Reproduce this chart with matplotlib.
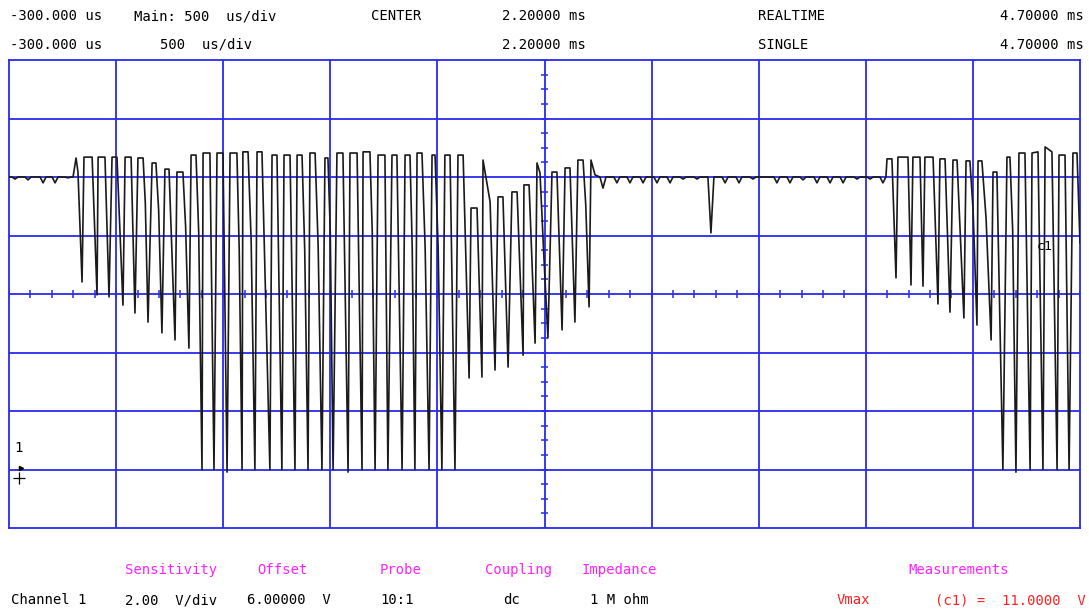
#! /usr/bin/env python3

import numpy as np
import matplotlib
matplotlib.use("Agg")
import matplotlib.pyplot as plt

# scope screen settings
t_start_us = -300.0
t_div_us = 500.0
v_offset = 6.0
v_div = 2.0
n_xdiv = 10
n_ydiv = 8
baseline_v = 10.0

# small ripple dips on the idle baseline: centre time (us), dip voltage (V)
dip_us = [-272, -211, -141, -85, -25,
          2473, 2538, 2599, 2660, 2725, 2786, 2847, 2912, 2977, 3043, 3108,
          3173, 3285, 3346, 3407, 3472, 3533, 3594, 3659, 3720, 3780]
dip_v = [9.93, 9.90, 9.80, 9.80, 9.97,
         9.62, 9.80, 9.80, 9.80, 9.80, 9.80, 9.93, 9.93, 8.09, 9.80, 9.80,
         9.93, 9.80, 9.80, 9.90, 9.80, 9.80, 9.80, 9.93, 9.93, 9.80]

# single trace samples outside the pulses (start, burst lead-in, burst tail)
edge_us = [-300, -1, 13, 2436, 3799]
edge_v = [10.0, 10.0, 10.65, 10.07, 10.62]

# pulses: end of high plateau, knee on falling edge, bottom, top after rise
pulse_end_us = [22, 88, 148, 204, 270, 326, 386, 447, 512, 573,
                638, 699, 764, 816, 881, 951, 1012, 1068, 1129, 1189,
                1259, 1325, 1385, 1455, 1511, 1572, 1628, 1689, 1759, 1820,
                1885, 1946, 2006, 2072, 2128, 2179, 2258, 2319, 2380,
                3822, 3897, 3953, 4014, 4070, 4126, 4186, 4242, 4312, 4373,
                4443, 4504, 4569, 4630, 4686]
pulse_end_v = [10.17, 10.68, 10.68, 10.68, 10.68, 10.65, 10.48, 10.27, 10.17, 10.75,
               10.82, 10.82, 10.82, 10.86, 10.86, 10.75, 10.75, 10.75, 10.82, 10.65,
               10.82, 10.82, 10.86, 10.75, 10.75, 10.75, 10.82, 10.75, 10.75, 10.75,
               8.94, 9.15, 9.32, 9.49, 9.73, 10.14, 10.17, 10.31, 10.58,
               10.62, 10.68, 10.68, 10.68, 10.62, 10.58, 10.55, 10.55, 10.17, 10.68,
               10.82, 10.86, 10.86, 10.75, 10.82]
pulse_knee_v = [np.nan, np.nan, np.nan, np.nan, np.nan, 9.11, 8.87, np.nan, 8.29, 8.12,
                np.nan, np.nan, 7.50, 7.85, np.nan, np.nan, np.nan, 7.50, 7.61, 8.15,
                np.nan, np.nan, 8.12, np.nan, np.nan, 7.61, 7.57, 7.61, np.nan, np.nan,
                np.nan, np.nan, np.nan, np.nan, np.nan, 7.50, np.nan, np.nan, 9.04,
                np.nan, np.nan, np.nan, np.nan, np.nan, np.nan, 8.87, 8.60, np.nan, 8.19,
                np.nan, np.nan, np.nan, np.nan, np.nan]
pulse_low_us = [41, 111, 167, 232, 288, 349, 414, 475, 540, 601,
                657, 718, 788, 848, 918, 974, 1035, 1096, 1161, 1213,
                1283, 1348, 1409, 1469, 1535, 1595, 1661, 1721, 1782, 1848,
                1908, 1969, 2030, 2100, 2156, 2216, 2282, 2342, 2408,
                3841, 3911, 3967, 4037, 4093, 4158, 4219, 4285, 4340, 4401,
                4467, 4527, 4593, 4649, 4700]
pulse_low_v = [6.41, 5.97, 5.90, 5.62, 5.35, 5.04, 4.67, 4.43, 4.15, 0.0,
               0.0, -0.09, 0.0, 0.0, 0.0, 0.0, 0.0, 0.0, 0.0, 0.0,
               -0.09, 0.0, 0.0, 0.0, 0.0, 0.0, 0.0, 0.0, 0.0, 3.13,
               3.16, 3.40, 3.50, 3.91, 4.32, 4.50, 4.77, 5.04, 5.56,
               6.55, 6.31, 6.27, 5.66, 5.38, 5.18, 4.94, 4.43, 0.0, -0.09,
               0.0, 0.0, 0.0, 0.0, 7.74]
pulse_top_us = [50, 116, 181, 242, 302, 368, 428, 484, 550, 606,
                671, 732, 792, 858, 928, 984, 1045, 1105, 1175, 1231,
                1292, 1353, 1423, 1488, 1549, 1605, 1675, 1735, 1796, 1857,
                1913, 1983, 2048, 2104, 2165, 2235, 2296, 2356, 2417,
                3850, 3920, 3976, 4046, 4107, 4168, 4224, 4294, 4359, 4415,
                4476, 4537, 4602, 4667, 4715]
pulse_top_v = [10.68, 10.68, 10.68, 10.68, 10.65, 10.48, 10.27, 10.17, 10.75, 10.82,
               10.82, 10.82, 10.86, 10.86, 10.75, 10.75, 10.75, 10.82, 10.65, 10.82,
               10.82, 10.86, 10.75, 10.75, 10.75, 10.82, 10.75, 10.75, 10.75, 8.94,
               10.58, 9.32, 9.49, 9.73, 10.48, 10.17, 10.31, 10.58, 10.58,
               10.68, 10.68, 10.68, 10.62, 10.58, 10.55, 10.55, 10.17, 10.68, 10.82,
               10.82, 11.03, 10.75, 10.82, 10.70]

BLUE = "#2a2af0"
MAGENTA = "#ff22ff"
RED = "#ff2020"
MONO = "DejaVu Sans Mono"

W, H = 1089, 614


def build_trace():
    ts, vs = list(edge_us), list(edge_v)
    half = 14
    for t, v in zip(dip_us, dip_v):
        ts += [t - half, t, t + half]
        vs += [baseline_v, v, baseline_v]
    for i in range(len(pulse_end_us)):
        ts.append(pulse_end_us[i])
        vs.append(pulse_end_v[i])
        if not np.isnan(pulse_knee_v[i]):
            ts.append(pulse_end_us[i] + 0.45 * (pulse_low_us[i] - pulse_end_us[i]))
            vs.append(pulse_knee_v[i])
        ts += [pulse_low_us[i], pulse_top_us[i]]
        vs += [pulse_low_v[i], pulse_top_v[i]]
    ts = np.array(ts, dtype=float)
    vs = np.array(vs, dtype=float)
    order = np.argsort(ts, kind="stable")
    return ts[order], vs[order]


def put(x, y, s, color="black", ha="left", size=10):
    fig.text(x / W, 1 - y / H, s, color=color, ha=ha, va="center",
             family=MONO, fontsize=size)


fig = plt.figure(figsize=(W / 100, H / 100), dpi=100)
left, right, top, bottom = 9, 1080, 60, 528
ax = fig.add_axes([left / W, 1 - bottom / H, (right - left) / W, (bottom - top) / H])

t_end_us = t_start_us + n_xdiv * t_div_us
v_low = v_offset - n_ydiv / 2 * v_div
v_high = v_offset + n_ydiv / 2 * v_div
ax.set_xlim(t_start_us, t_end_us)
ax.set_ylim(v_low, v_high)
ax.set_xticks([])
ax.set_yticks([])
for sp in ax.spines.values():
    sp.set_color(BLUE)
    sp.set_linewidth(1.3)

# graticule
for k in range(1, n_xdiv):
    ax.axvline(t_start_us + k * t_div_us, color=BLUE, lw=1.3, zorder=1)
for k in range(1, n_ydiv):
    ax.axhline(v_low + k * v_div, color=BLUE, lw=1.3, zorder=1)

t_center = t_start_us + n_xdiv / 2 * t_div_us
xt = np.arange(t_start_us, t_end_us + 1, t_div_us / 5)
ax.vlines(xt, v_offset - 0.14, v_offset + 0.14, color=BLUE, lw=1.1, zorder=1)
yt = np.arange(v_low, v_high + 0.01, v_div / 4)
ax.hlines(yt, t_center - 15, t_center + 15, color=BLUE, lw=1.1, zorder=1)

t, v = build_trace()
ax.plot(t, v, color="#1a1a1a", lw=1.2, zorder=3)

# channel / ground markers
ax.text(-275, 0.75, "1", family=MONO, fontsize=10, va="center", ha="left")
ax.plot([-255], [-0.3], marker="+", ms=9, mew=0.9, color="black", ls="none",
        zorder=4)
ax.plot([-245], [0.05], marker=">", ms=3, color="black", ls="none", zorder=4)
put(1037, 246, "c1", size=9.5)

# header
put(10, 16, "-300.000 us")
put(134, 16, "Main: 500  us/div")
put(371, 16, "CENTER")
put(502, 16, "2.20000 ms")
put(758, 16, "REALTIME")
put(1000, 16, "4.70000 ms")
put(10, 45, "-300.000 us")
put(160, 45, "500  us/div")
put(502, 45, "2.20000 ms")
put(758, 45, "SINGLE")
put(1000, 45, "4.70000 ms")

# footer
put(125, 570, "Sensitivity", MAGENTA)
put(257, 570, "Offset", MAGENTA)
put(380, 570, "Probe", MAGENTA)
put(485, 570, "Coupling", MAGENTA)
put(582, 570, "Impedance", MAGENTA)
put(908, 570, "Measurements", MAGENTA)
put(11, 600, "Channel 1")
put(125, 600, "2.00  V/div")
put(247, 600, "6.00000  V")
put(380, 600, "10:1")
put(503, 600, "dc")
put(590, 600, "1 M ohm")
put(837, 600, "Vmax", RED)
put(935, 600, "(c1) =  11.0000  V", RED)

plt.savefig("out.png", dpi=100)
plt.close()
